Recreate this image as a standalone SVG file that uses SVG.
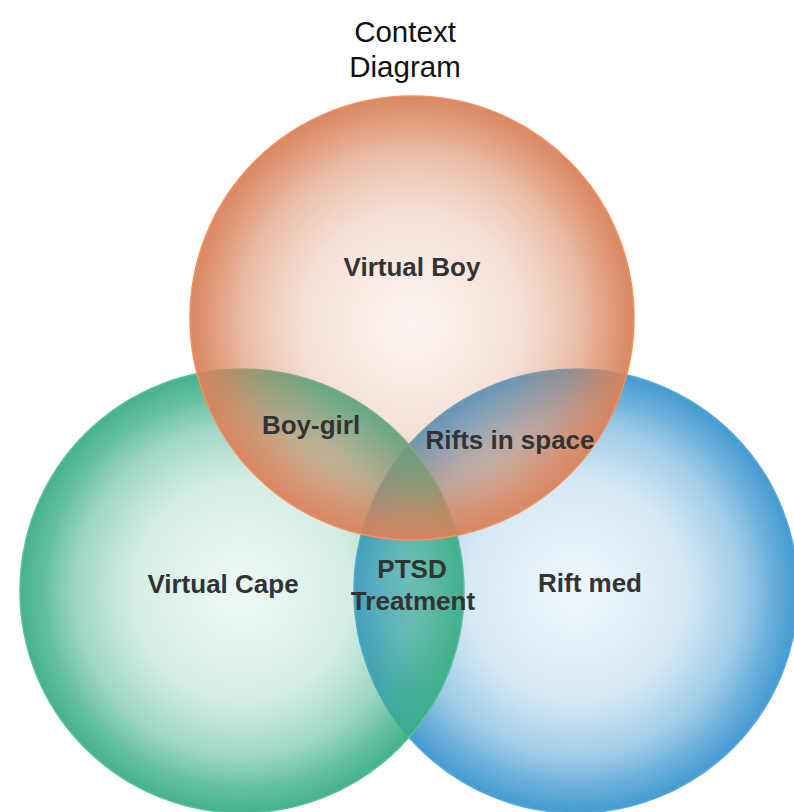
<svg xmlns="http://www.w3.org/2000/svg" width="794" height="812" viewBox="0 0 794 812">
  <defs>
    <!-- each set is a solid colour whose alpha rises from the centre to the rim -->
    <radialGradient id="gBlue" cx="0.5" cy="0.5" r="0.5">
      <stop offset="0" stop-color="#3f98d0" stop-opacity="0.08"/>
      <stop offset="0.5" stop-color="#3f98d0" stop-opacity="0.22"/>
      <stop offset="0.75" stop-color="#3f98d0" stop-opacity="0.5"/>
      <stop offset="0.9" stop-color="#3f98d0" stop-opacity="0.8"/>
      <stop offset="1" stop-color="#3f98d0" stop-opacity="0.97"/>
    </radialGradient>
    <radialGradient id="gGreen" cx="0.5" cy="0.5" r="0.5">
      <stop offset="0" stop-color="#3aae88" stop-opacity="0.08"/>
      <stop offset="0.5" stop-color="#3aae88" stop-opacity="0.22"/>
      <stop offset="0.75" stop-color="#3aae88" stop-opacity="0.5"/>
      <stop offset="0.9" stop-color="#3aae88" stop-opacity="0.8"/>
      <stop offset="1" stop-color="#3aae88" stop-opacity="0.95"/>
    </radialGradient>
    <radialGradient id="gOrange" cx="0.5" cy="0.5" r="0.5" fy="0.52">
      <stop offset="0" stop-color="#d9825a" stop-opacity="0.08"/>
      <stop offset="0.5" stop-color="#d9825a" stop-opacity="0.25"/>
      <stop offset="0.75" stop-color="#d9825a" stop-opacity="0.52"/>
      <stop offset="0.9" stop-color="#d9825a" stop-opacity="0.8"/>
      <stop offset="1" stop-color="#d9825a" stop-opacity="0.95"/>
    </radialGradient>
    <style>
      .title { font-family: "Liberation Sans", Arial, sans-serif; font-size: 29.5px; fill: #111; text-anchor: middle; }
      .lbl { font-family: "Liberation Sans", Arial, sans-serif; font-size: 26px; font-weight: bold; fill: #333; text-anchor: middle; }
    </style>
  </defs>

  <rect width="794" height="812" fill="#ffffff"/>

  <g id="title">
    <text class="title" x="405" y="42">Context</text>
    <text class="title" x="405" y="77">Diagram</text>
  </g>

  <g id="rift-med">
    <circle cx="576" cy="591" r="222" fill="url(#gBlue)" stroke="#55aadd" stroke-width="1.5"/>
  </g>
  <g id="virtual-cape">
    <circle cx="242" cy="591" r="222" fill="url(#gGreen)" stroke="#5cc0a0" stroke-width="1.5"/>
  </g>
  <g id="virtual-boy">
    <circle cx="412" cy="318" r="222" fill="url(#gOrange)" stroke="#f0915f" stroke-width="1.5"/>
  </g>

  <g id="labels">
    <text class="lbl" x="412" y="276">Virtual Boy</text>
    <text class="lbl" x="311" y="434">Boy-girl</text>
    <text class="lbl" x="510" y="449">Rifts in space</text>
    <text class="lbl" x="223" y="593">Virtual Cape</text>
    <text class="lbl" x="412" y="578">PTSD</text>
    <text class="lbl" x="413" y="610">Treatment</text>
    <text class="lbl" x="590" y="592">Rift med</text>
  </g>
</svg>
